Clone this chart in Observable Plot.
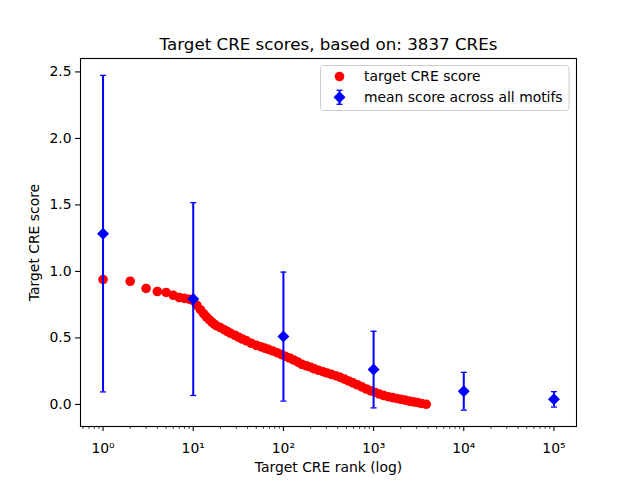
<!DOCTYPE html>
<html><head><meta charset="utf-8">
<script src="https://cdn.jsdelivr.net/npm/d3@7"></script>
<script src="https://cdn.jsdelivr.net/npm/@observablehq/plot@0.6"></script>
<style>
html,body{margin:0;padding:0;background:#fff;}
#chart{position:relative;width:640px;height:480px;}
</style></head><body><div id="chart"></div>
<script>
const ranks = [1,2,3,4,5,6,7,8,9,10,11,12,13,14,15,16,17,18,20,22,24,26,29,32,35,39,44,50,56,62,68,76,85,95,105,117,130,145,160,180,200,220,245,275,305,340,380,425,475,530,590,660,740,830,930,1040,1160,1300,1450,1620,1800,2000,2230,2480,2760,3070,3400,3837];
const scores = [0.939,0.926,0.872,0.849,0.842,0.821,0.804,0.797,0.791,0.780,0.745,0.712,0.683,0.658,0.638,0.620,0.605,0.592,0.578,0.562,0.548,0.535,0.520,0.505,0.492,0.478,0.460,0.445,0.434,0.423,0.414,0.402,0.389,0.375,0.362,0.349,0.334,0.318,0.302,0.290,0.280,0.268,0.257,0.246,0.236,0.226,0.216,0.203,0.190,0.176,0.162,0.148,0.132,0.116,0.102,0.090,0.078,0.067,0.058,0.051,0.045,0.039,0.032,0.025,0.019,0.014,0.007,0.001];
const meanRanks = [1,10,100,1000,10000,100000];
const meanScores = [1.284,0.792,0.510,0.262,0.099,0.038];
const meanErrors = [1.190,0.725,0.485,0.288,0.142,0.058];
const xTicks = [1,10,100,1000,10000,100000];
const xTickLabels = ["10\u2070","10\u00b9","10\u00b2","10\u00b3","10\u2074","10\u2075"];
const yTicks = [0,0.5,1,1.5,2,2.5];
const yTickLabels = ["0.0","0.5","1.0","1.5","2.0","2.5"];
const titleText = "Target CRE scores, based on: 3837 CREs";
const xLabel = "Target CRE rank (log)";
const yLabel = "Target CRE score";
const legendLabels = ["target CRE score","mean score across all motifs"];

const redData = ranks.map((r,i)=>({rank:r, score:scores[i]}));
const meanData = meanRanks.map((r,i)=>({rank:r, mean:meanScores[i], lo:meanScores[i]-meanErrors[i], hi:meanScores[i]+meanErrors[i]}));
const minorTicks = [];
for (let e=-1;e<=5;e++) for (let m=2;m<=9;m++){const v=m*Math.pow(10,e); if (v>=0.57 && v<=1.77e5) minorTicks.push(v);}
const capSymbol = {draw(ctx,size){const r=Math.sqrt(size/Math.PI); ctx.moveTo(-r,0); ctx.lineTo(r,0);}};
const FS = 13.9;

const plot = Plot.plot({
  width: 640, height: 480,
  marginLeft: 80, marginRight: 64, marginTop: 58, marginBottom: 54,
  style: {fontFamily: "'DejaVu Sans', sans-serif", fontSize: FS + "px", color: "black", background: "white", overflow: "visible"},
  x: {type: "log", domain: [0.5623, 177828]},
  y: {domain: [-0.166, 2.601]},
  marks: [
    Plot.dot(redData, {x: "rank", y: "score", r: 4.8, fill: "red"}),
    Plot.ruleX(meanData, {x: "rank", y1: "lo", y2: "hi", stroke: "blue", strokeWidth: 2}),
    Plot.dot(meanData, {x: "rank", y: "lo", symbol: capSymbol, r: 3, stroke: "blue", strokeWidth: 1.3, fill: "none"}),
    Plot.dot(meanData, {x: "rank", y: "hi", symbol: capSymbol, r: 3, stroke: "blue", strokeWidth: 1.3, fill: "none"}),
    Plot.dot(meanData, {x: "rank", y: "mean", symbol: "diamond2", r: 5.4, fill: "blue"}),
    Plot.frame({stroke: "black", strokeWidth: 1.1}),
    Plot.axisY({ticks: yTicks, tickFormat: d => yTickLabels[yTicks.indexOf(d)], tickSize: 4.9, tickPadding: 4, fontSize: FS, label: null, strokeWidth: 1.1}),
    Plot.axisX({ticks: xTicks, tickFormat: d => xTickLabels[xTicks.indexOf(d)], tickSize: 4.9, tickPadding: 12, fontSize: FS, label: null, strokeWidth: 1.1}),
    Plot.axisX({ticks: minorTicks, tickFormat: () => "", tickSize: 2.8, label: null, strokeWidth: 0.8}),
    Plot.text([titleText], {frameAnchor: "top", dy: -14, fontSize: 16.7, lineAnchor: "middle"}),
    Plot.text([xLabel], {frameAnchor: "bottom", dy: 41, fontSize: FS, lineAnchor: "middle"}),
    Plot.text([yLabel], {frameAnchor: "left", dx: -46, rotate: -90, fontSize: FS, lineAnchor: "middle", textAnchor: "middle"})
  ]
});
document.getElementById("chart").appendChild(plot);

// legend
const svg = d3.select(plot);
const lg = svg.append("g").attr("font-family", "'DejaVu Sans', sans-serif").attr("font-size", FS + "px").attr("text-anchor", "start");
lg.append("rect").attr("x", 320.5).attr("y", 65.5).attr("width", 248.5).attr("height", 45).attr("rx", 3)
  .attr("fill", "white").attr("fill-opacity", 0.8).attr("stroke", "#cccccc");
lg.append("circle").attr("cx", 339.5).attr("cy", 76.5).attr("r", 4.8).attr("fill", "red");
const ly = 97.3;
lg.append("line").attr("x1", 339.5).attr("x2", 339.5).attr("y1", ly-7).attr("y2", ly+7).attr("stroke", "blue").attr("stroke-width", 2);
lg.append("line").attr("x1", 336.5).attr("x2", 342.5).attr("y1", ly-7).attr("y2", ly-7).attr("stroke", "blue").attr("stroke-width", 1.3);
lg.append("line").attr("x1", 336.5).attr("x2", 342.5).attr("y1", ly+7).attr("y2", ly+7).attr("stroke", "blue").attr("stroke-width", 1.3);
lg.append("path").attr("d", d3.symbol(d3.symbolDiamond2, Math.PI*5.4*5.4)()).attr("transform", `translate(339.5,${ly})`).attr("fill", "blue");
lg.append("text").attr("x", 364).attr("y", 76.5).attr("dy", "0.35em").attr("text-anchor", "start").text(legendLabels[0]);
lg.append("text").attr("x", 364).attr("y", ly).attr("dy", "0.35em").attr("text-anchor", "start").text(legendLabels[1]);
</script></body></html>
